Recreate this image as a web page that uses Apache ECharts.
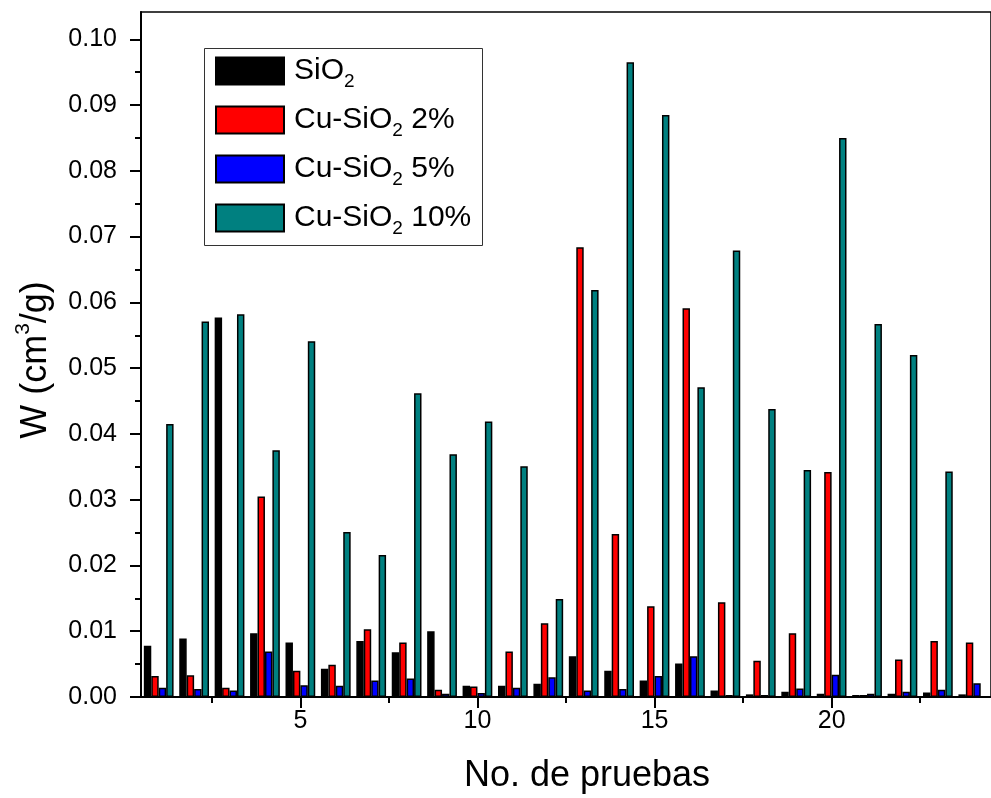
<!DOCTYPE html>
<html>
<head>
<meta charset="utf-8">
<script src="https://cdn.jsdelivr.net/npm/echarts@6/dist/echarts.min.js"></script>
<style>
  html, body { margin: 0; padding: 0; background: #fff; }
  #chart { width: 991px; height: 798px; }
</style>
</head>
<body>
<div id="chart"></div>
<script>
// Trial numbers (x categories)
const trials = ['1','2','3','4','5','6','7','8','9','10','11','12','13','14','15','16','17','18','19','20','21','22','23','24'];

// Adsorbed volume W (cm3/g) per trial, one array per material
const sio2  = [0.0078, 0.0089, 0.0577, 0.0097, 0.0083, 0.0043, 0.0085, 0.0068, 0.0100, 0.0017, 0.0017, 0.0020,
               0.0062, 0.0040, 0.0025, 0.0051, 0.0010, 0.0004, 0.0008, 0.0005, 0.0003, 0.0005, 0.0007, 0.0004];
const cu2   = [0.0032, 0.0033, 0.0014, 0.0305, 0.0040, 0.0049, 0.0103, 0.0083, 0.0011, 0.0016, 0.0069, 0.0112,
               0.0684, 0.0248, 0.0138, 0.0591, 0.0144, 0.0055, 0.0097, 0.0342, 0.0003, 0.0057, 0.0085, 0.0083];
const cu5   = [0.0014, 0.0012, 0.0010, 0.0069, 0.0018, 0.0017, 0.0025, 0.0028, 0.0005, 0.0006, 0.0014, 0.0030,
               0.0010, 0.0012, 0.0032, 0.0062, 0.0003, 0.0003, 0.0013, 0.0034, 0.0005, 0.0008, 0.0011, 0.0021];
const cu10  = [0.0415, 0.0571, 0.0582, 0.0375, 0.0541, 0.0251, 0.0216, 0.0462, 0.0369, 0.0419, 0.0351, 0.0149,
               0.0619, 0.0965, 0.0885, 0.0471, 0.0679, 0.0438, 0.0345, 0.0850, 0.0567, 0.0520, 0.0343, null];

const seriesNames = ['SiO2', 'Cu-SiO2 2%', 'Cu-SiO2 5%', 'Cu-SiO2 10%'];
const seriesColors = ['#000000', '#ff0000', '#0000ff', '#008080'];

// Tick positions
const yMajor = [0, 0.01, 0.02, 0.03, 0.04, 0.05, 0.06, 0.07, 0.08, 0.09, 0.10];
const yMinor = [0.005, 0.015, 0.025, 0.035, 0.045, 0.055, 0.065, 0.075, 0.085, 0.095];
const xMajor = [5, 10, 15, 20];
const xMinor = [2.5, 7.5, 12.5, 17.5, 22.5];

const FONT = '"Liberation Sans", Arial, Helvetica, sans-serif';
const Y_MAX = 0.10415;
const X_MIN = 0.5, X_MAX = 24.5;

const chart = echarts.init(document.getElementById('chart'), null, { renderer: 'canvas' });

const blackLine = { color: '#000', width: 2 };

function bar(name, data, color) {
  return {
    name: name,
    type: 'bar',
    xAxisIndex: 0,
    yAxisIndex: 0,
    data: data,
    barGap: '0%',
    barCategoryGap: '16%',
    itemStyle: { color: color, borderColor: '#000', borderWidth: 1.5 },
    emphasis: { disabled: true }
  };
}

chart.setOption({
  animation: false,
  backgroundColor: '#fff',
  grid: {
    left: 141, top: 12, width: 862, height: 685,
    show: true, borderColor: '#000', borderWidth: 1.5, backgroundColor: 'transparent'
  },
  legend: {
    orient: 'vertical',
    left: 215, top: 51,
    itemWidth: 68, itemHeight: 27, itemGap: 9,
    icon: 'rect',
    padding: 0,
    selectedMode: false,
    data: seriesNames,
    formatter: function (name) { return name.replace('SiO2', 'SiO{sub|2}'); },
    textStyle: {
      fontFamily: FONT, fontSize: 30, lineHeight: 40, color: '#000',
      padding: [0, 0, 0, 5],
      rich: { sub: { fontFamily: FONT, fontSize: 19, lineHeight: 6, verticalAlign: 'bottom', color: '#000' } }
    }
  },
  xAxis: [
    {
      type: 'category', data: trials, position: 'bottom', boundaryGap: true,
      axisLine: { show: true, lineStyle: blackLine },
      axisTick: { show: false }, axisLabel: { show: false }, splitLine: { show: false }
    },
    {
      type: 'value', min: X_MIN, max: X_MAX, position: 'bottom',
      axisLine: { show: false },
      axisTick: { show: true, inside: false, length: 11, lineStyle: blackLine, customValues: xMajor },
      axisLabel: { show: true, customValues: xMajor, fontFamily: FONT, fontSize: 25, color: '#000', margin: 12 },
      splitLine: { show: false }
    },
    {
      type: 'value', min: X_MIN, max: X_MAX, position: 'bottom',
      axisLine: { show: false },
      axisTick: { show: true, inside: false, length: 6, lineStyle: blackLine, customValues: xMinor },
      axisLabel: { show: false }, splitLine: { show: false }
    }
  ],
  yAxis: [
    {
      type: 'value', min: 0, max: Y_MAX, position: 'left',
      axisLine: { show: true, lineStyle: blackLine },
      axisTick: { show: true, inside: false, length: 11, lineStyle: blackLine, customValues: yMajor },
      axisLabel: {
        show: true, customValues: yMajor, formatter: function (v) { return v.toFixed(2); },
        fontFamily: FONT, fontSize: 25, color: '#000', margin: 24
      },
      splitLine: { show: false }
    },
    {
      type: 'value', min: 0, max: Y_MAX, position: 'left',
      axisLine: { show: false },
      axisTick: { show: true, inside: false, length: 6, lineStyle: blackLine, customValues: yMinor },
      axisLabel: { show: false }, splitLine: { show: false }
    }
  ],
  graphic: [
    {
      type: 'rect', z: 50,
      shape: { x: 204.5, y: 48.5, width: 278, height: 197 },
      style: { fill: 'rgba(0,0,0,0)', stroke: '#333', lineWidth: 1 }
    },
    {
      type: 'text', z: 50, x: 587, y: 776,
      style: {
        text: 'No. de pruebas', fontFamily: FONT, fontSize: 36, fill: '#000',
        align: 'center', verticalAlign: 'middle'
      }
    },
    {
      type: 'text', z: 50, x: 36, y: 360, rotation: Math.PI / 2,
      style: {
        text: 'W (cm{sup|3}/g)', fontFamily: FONT, fontSize: 36, lineHeight: 46, fill: '#000',
        align: 'center', verticalAlign: 'middle',
        rich: { sup: { fontFamily: FONT, fontSize: 21, lineHeight: 6, verticalAlign: 'top', fill: '#000' } }
      }
    }
  ],
  series: [
    bar(seriesNames[0], sio2, seriesColors[0]),
    bar(seriesNames[1], cu2, seriesColors[1]),
    bar(seriesNames[2], cu5, seriesColors[2]),
    bar(seriesNames[3], cu10, seriesColors[3])
  ]
});
</script>
</body>
</html>
